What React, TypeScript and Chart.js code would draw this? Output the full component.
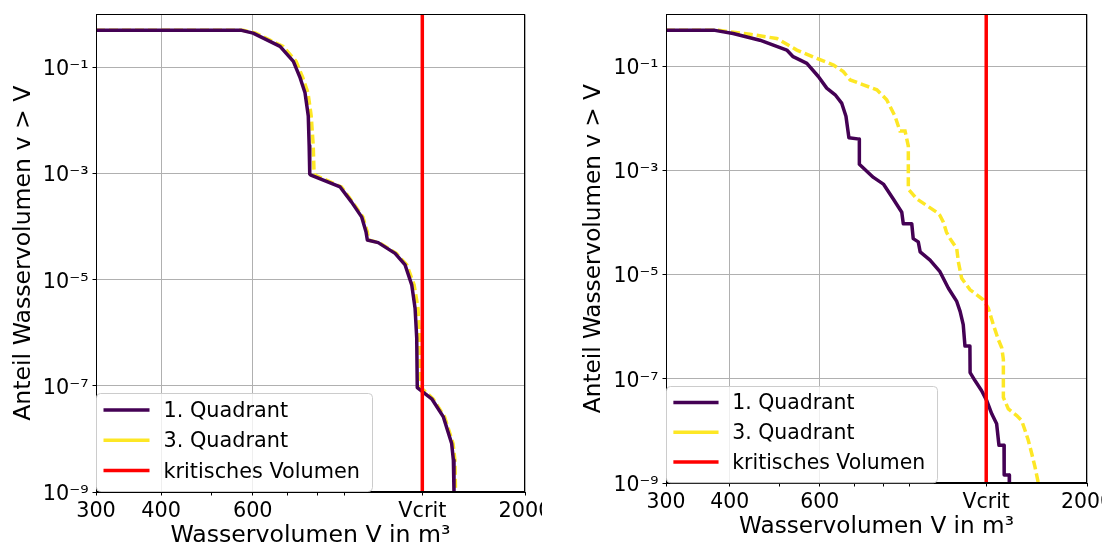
import React, { useEffect, useRef } from 'react';
import { Chart, registerables } from 'chart.js';

Chart.register(...registerables);

const FONT = '"DejaVu Sans", sans-serif';
const H = 548;

// ---------- data ----------
const VCRIT = 1270;

const xMajorTicks = [300, 400, 600, VCRIT, 2000];
const xMajorLabels = ['300', '400', '600', 'Vcrit', '2000'];
const xMinorTicks = [500, 700, 800, 900];

const yTicks = [1e-9, 1e-7, 1e-5, 1e-3, 1e-1];
const yTickLabels = ['10⁻⁹', '10⁻⁷', '10⁻⁵', '10⁻³', '10⁻¹'];

// left panel
const q1LeftV = [300, 571, 601, 677, 718, 740, 756, 767, 770, 772, 776, 883, 929, 971, 990, 996, 1045, 1126, 1177, 1212, 1230, 1239, 1242, 1324, 1394, 1446, 1457, 1461, 1462];
const q1LeftP = [0.5, 0.5, 0.443, 0.249, 0.13, 0.0635, 0.0333, 0.0122, 0.0034, 0.00098, 0.00094, 0.00056, 0.00029, 0.000153, 0.00008, 0.000056, 0.00005, 0.0000314, 0.000019, 0.000008, 0.0000029, 0.0000008, 9.3e-8, 5.7e-8, 2.6e-8, 8.2e-9, 4.0e-9, 1e-9, 1e-10];
const q3LeftV = [300, 575, 608, 686, 727, 749, 766, 777, 784, 787, 790, 888, 933, 976, 996, 1001, 1049, 1132, 1186, 1225, 1246, 1255, 1262, 1332, 1402, 1455, 1467, 1471, 1472];
const q3LeftP = [0.5, 0.5, 0.443, 0.249, 0.13, 0.0635, 0.0333, 0.0122, 0.0034, 0.00098, 0.00094, 0.00056, 0.00029, 0.000153, 0.00008, 0.000056, 0.00005, 0.0000314, 0.000019, 0.000008, 0.0000029, 0.0000008, 9.3e-8, 5.7e-8, 2.6e-8, 8.2e-9, 4.0e-9, 1e-9, 1e-10];

// right panel
const q1RightV = [300, 374, 406, 458, 517, 532, 566, 596, 619, 643, 662, 675, 684, 717, 717, 764, 799, 836, 868, 874, 908, 914, 935, 943, 986, 1031, 1071, 1112, 1129, 1145, 1154, 1180, 1181, 1208, 1244, 1273, 1302, 1331, 1345, 1376, 1377, 1409, 1410];
const q1RightP = [0.49, 0.49, 0.426, 0.317, 0.205, 0.153, 0.114, 0.0637, 0.0381, 0.0284, 0.0197, 0.011, 0.00425, 0.004, 0.00132, 0.000736, 0.000548, 0.00028, 0.000158, 0.000095, 0.000095, 4.92e-5, 4.26e-5, 2.74e-5, 1.9e-5, 1.14e-5, 5.48e-6, 3.06e-6, 1.97e-6, 1.1e-6, 4.26e-7, 4.26e-7, 1.32e-7, 9.16e-8, 5.9e-8, 3.81e-8, 2.13e-8, 1.37e-8, 5.3e-9, 5.3e-9, 1.42e-9, 1.42e-9, 1e-10];
const q3RightV = [300, 380, 438, 494, 541, 592, 638, 667, 688, 730, 776, 811, 842, 861, 881, 894, 894, 929, 971, 1016, 1031, 1047, 1062, 1079, 1112, 1120, 1137, 1181, 1253, 1282, 1311, 1341, 1362, 1372, 1372, 1403, 1457, 1490, 1513, 1535, 1559, 1582, 1606, 1607];
const q3RightP = [0.49, 0.49, 0.412, 0.342, 0.205, 0.142, 0.106, 0.0792, 0.0548, 0.044, 0.0354, 0.0228, 0.011, 0.0057, 0.0057, 0.00295, 0.00044, 0.000284, 0.000213, 0.000158, 0.000137, 0.000102, 0.000065, 4.92e-5, 3.17e-5, 1.77e-5, 8.5e-6, 5.12e-6, 3.3e-6, 2.28e-6, 1.1e-6, 5.7e-7, 3.94e-7, 2.37e-7, 4.4e-8, 2.65e-8, 1.97e-8, 1.58e-8, 1.02e-8, 6.6e-9, 3.68e-9, 2.04e-9, 1e-9, 1e-10];

const seriesLabels = ['1. Quadrant', '3. Quadrant', 'kritisches Volumen'];
const COLORS = ['#440154', '#fde725', '#ff0000'];

// ---------- layout ----------
type Cfg = {
  pageX: number; clipW: number; canvasW: number; s: number;
  area: { left: number; right: number; top: number; bottom: number };
  yTitlePad: number; xTitlePad: number;
  q1V: number[]; q1P: number[]; q3V: number[]; q3P: number[];
};

const panels: Cfg[] = [
  {
    pageX: 0, clipW: 542, canvasW: 620, s: 1,
    area: { left: 96, right: 525, top: 11, bottom: 492 },
    yTitlePad: 11.6, xTitlePad: 0,
    q1V: q1LeftV, q1P: q1LeftP, q3V: q3LeftV, q3P: q3LeftP,
  },
  {
    pageX: 542, clipW: 560, canvasW: 620, s: 0.982,
    area: { left: 124, right: 545, top: 10.5, bottom: 483 },
    yTitlePad: 39.9, xTitlePad: 9.7,
    q1V: q1RightV, q1P: q1RightP, q3V: q3RightV, q3P: q3RightP,
  },
];

const zip = (xs: number[], ys: number[]) => xs.map((x, i) => ({ x, y: ys[i] }));
const near = (a: number, b: number) => Math.abs(a - b) / b < 1e-6;

function makeChart(canvas: HTMLCanvasElement, cfg: Cfg) {
  const s = cfg.s;
  const tickFont = { family: FONT, size: 20.8 * s, lineHeight: 1 };
  const titleFont = { family: FONT, size: 23.6 * s, lineHeight: 1 };

  const framePlugin = {
    id: 'frame',
    afterDatasetsDraw(chart: any) {
      const { ctx, chartArea: a } = chart;
      ctx.save();
      ctx.strokeStyle = '#000';
      ctx.lineWidth = 1;
      const l = Math.round(a.left) + 0.5, r = Math.round(a.right) - 0.5;
      const t = Math.round(a.top) + 0.5, b = Math.round(a.bottom) - 0.5;
      ctx.strokeRect(l, t, r - l, b - t);
      ctx.restore();
    },
  };

  const legendPlugin = {
    id: 'mplLegend',
    afterDraw(chart: any) {
      const { ctx, chartArea: a } = chart;
      const bx = Math.round(a.left) + 0.5;
      const bh = 99 * s;
      const bw = 276 * s;
      const by = Math.round(a.bottom - bh) + 0.5;
      ctx.save();
      ctx.beginPath();
      (ctx as any).roundRect(bx, by, bw, bh - 1, 4 * s);
      ctx.fillStyle = 'rgba(255,255,255,0.8)';
      ctx.fill();
      ctx.strokeStyle = '#cccccc';
      ctx.lineWidth = 1;
      ctx.stroke();
      const rows = [-82, -51.7, -21.4];
      chart.data.datasets.forEach((ds: any, i: number) => {
        const y = a.bottom + rows[i] * s;
        ctx.beginPath();
        ctx.moveTo(bx + 7 * s, y);
        ctx.lineTo(bx + 53 * s, y);
        ctx.strokeStyle = ds.borderColor;
        ctx.lineWidth = 3.5;
        ctx.lineCap = 'butt';
        ctx.stroke();
        ctx.fillStyle = '#000';
        ctx.font = `${20.8 * s}px ${FONT}`;
        ctx.textBaseline = 'alphabetic';
        ctx.textAlign = 'left';
        ctx.fillText(ds.label, bx + 67 * s, y + 7 * s);
      });
      ctx.restore();
    },
  };

  const allX = [...xMajorTicks, ...xMinorTicks].sort((a, b) => a - b);
  const isMajorX = (v: number) => xMajorTicks.some((m) => near(v, m));

  return new Chart(canvas, {
    type: 'line',
    data: {
      datasets: [
        {
          label: seriesLabels[0], data: zip(cfg.q1V, cfg.q1P),
          borderColor: COLORS[0], backgroundColor: COLORS[0], borderWidth: 3.5,
          pointRadius: 0, tension: 0, fill: false, clip: 0, order: 1,
          borderJoinStyle: 'round',
        },
        {
          label: seriesLabels[1], data: zip(cfg.q3V, cfg.q3P),
          borderColor: COLORS[1], backgroundColor: COLORS[1], borderWidth: 3.5,
          borderDash: [9, 4], pointRadius: 0, tension: 0, fill: false, clip: 0, order: 2,
        },
        {
          label: seriesLabels[2], data: [{ x: VCRIT, y: 1e-12 }, { x: VCRIT, y: 10 }],
          borderColor: COLORS[2], backgroundColor: COLORS[2], borderWidth: 3.5,
          pointRadius: 0, fill: false, clip: 0, order: 0,
        },
      ] as any,
    },
    options: {
      responsive: false,
      animation: false,
      events: [],
      layout: { padding: { left: 0, top: cfg.area.top, right: cfg.canvasW - cfg.area.right, bottom: 0 } },
      plugins: { legend: { display: false }, tooltip: { enabled: false } },
      scales: {
        x: {
          type: 'logarithmic', position: 'bottom', min: 300, max: 2000,
          afterBuildTicks: (sc: any) => { sc.ticks = allX.map((v) => ({ value: v })); },
          afterFit: (sc: any) => { sc.height = H - cfg.area.bottom; },
          ticks: {
            autoSkip: false, maxRotation: 0, minRotation: 0, padding: 6, color: '#000', font: tickFont,
            callback: (v: any) => {
              const i = xMajorTicks.findIndex((m) => near(Number(v), m));
              return i >= 0 ? xMajorLabels[i] : '';
            },
          },
          grid: {
            color: (c: any) => (c.tick && isMajorX(c.tick.value) ? '#b0b0b0' : 'rgba(0,0,0,0)'),
            lineWidth: 1, tickColor: '#000', tickLength: 3.5, tickWidth: 1,
          },
          border: { color: '#000', width: 1 },
          title: {
            display: true, text: 'Wasservolumen V in m³', color: '#000', font: titleFont,
            padding: { top: 0, bottom: cfg.xTitlePad },
          },
        },
        y: {
          type: 'logarithmic', position: 'left', min: 1e-9, max: 1,
          afterBuildTicks: (sc: any) => { sc.ticks = yTicks.map((v) => ({ value: v })); },
          afterFit: (sc: any) => { sc.width = cfg.area.left; },
          ticks: {
            autoSkip: false, padding: 4, labelOffset: 2.5 * s, color: '#000', font: tickFont,
            callback: (v: any) => {
              const i = yTicks.findIndex((m) => near(Number(v), m));
              return i >= 0 ? yTickLabels[i] : '';
            },
          },
          grid: { color: '#b0b0b0', lineWidth: 1, tickColor: '#000', tickLength: 3.5, tickWidth: 1 },
          border: { color: '#000', width: 1 },
          title: {
            display: true, text: 'Anteil Wasservolumen v > V', color: '#000', font: titleFont,
            padding: { top: cfg.yTitlePad, bottom: 0 },
          },
        },
      },
    } as any,
    plugins: [framePlugin, legendPlugin],
  });
}

function Panel({ cfg }: { cfg: Cfg }) {
  const ref = useRef<HTMLCanvasElement>(null);
  useEffect(() => {
    const chart = makeChart(ref.current as HTMLCanvasElement, cfg);
    return () => chart.destroy();
  }, []);
  return (
    <div style={{ position: 'absolute', left: cfg.pageX, top: 0, width: cfg.clipW, height: H, overflow: 'hidden', background: '#fff' }}>
      <canvas ref={ref} width={cfg.canvasW} height={H} style={{ display: 'block', width: cfg.canvasW, height: H }} />
    </div>
  );
}

export default function App() {
  return (
    <div style={{ position: 'absolute', left: 0, top: 0, width: 1113, height: H, background: '#fff', overflow: 'hidden' }}>
      {panels.map((p, i) => <Panel key={i} cfg={p} />)}
    </div>
  );
}
